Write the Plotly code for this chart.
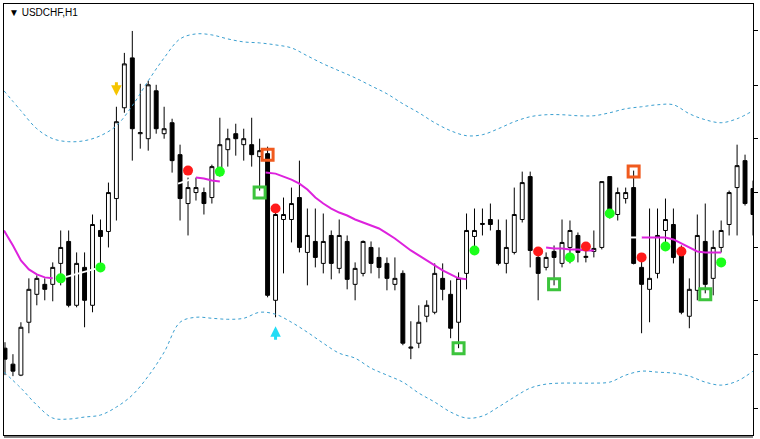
import plotly.graph_objects as go

# USDCHF H1 candles (bar index 0..94)
bars = list(range(95))
opens = [
    .9652, .9636, .9625, .9678, .9706, .9716, .9716, .9737, .9759, .9695,
    .9733, .9695, .9770, .9769, .9802, .9893, .9943, .9867, .9862, .9910,
    .9867, .9878, .9846, .9797, .9808, .9808, .9803, .9829, .9851, .9867,
    .9856, .9856, .9844, .9847, .9700, .9781, .9781, .9803, .9748, .9759,
    .9737, .9765, .9732, .9759, .9716, .9727, .9753, .9743, .9737, .9716,
    .9727, .9652, .9657, .9684, .9688, .9722, .9706, .9678, .9727, .9764,
    .9776, .9781, .9770, .9737, .9748, .9781, .9824, .9743, .9733, .9749,
    .9737, .9753, .9765, .9743, .9749, .9753, .9824, .9786, .9802, .9813,
    .9733, .9711, .9727, .9770, .9776, .9750, .9684, .9710, .9759, .9722,
    .9753, .9776, .9813, .9840, .9812]
highs = [
    .9658, .9646, .9678, .9722, .9725, .9722, .9738, .9770, .9770, .9748,
    .9748, .9786, .9781, .9818, .9894, .9948, .9970, .9917, .9920, .9916,
    .9894, .9882, .9856, .9823, .9823, .9813, .9836, .9883, .9872, .9877,
    .9872, .9883, .9862, .9854, .9796, .9803, .9813, .9840, .9792, .9792,
    .9787, .9770, .9781, .9765, .9738, .9760, .9759, .9753, .9743, .9743,
    .9730, .9679, .9695, .9700, .9737, .9737, .9720, .9728, .9787, .9792,
    .9792, .9797, .9781, .9781, .9813, .9829, .9829, .9748, .9748, .9755,
    .9781, .9780, .9768, .9753, .9770, .9819, .9824, .9813, .9813, .9830,
    .9743, .9792, .9792, .9802, .9792, .9755, .9722, .9786, .9797, .9770,
    .9780, .9810, .9856, .9846, .9820]
lows = [
    .9625, .9624, .9624, .9667, .9695, .9700, .9699, .9715, .9693, .9693,
    .9673, .9688, .9733, .9753, .9780, .9888, .9840, .9852, .9850, .9867,
    .9862, .9828, .9780, .9765, .9800, .9786, .9797, .9824, .9834, .9845,
    .9840, .9834, .9810, .9703, .9683, .9727, .9758, .9748, .9715, .9733,
    .9727, .9721, .9727, .9711, .9700, .9724, .9727, .9722, .9710, .9710,
    .9655, .9641, .9652, .9678, .9686, .9700, .9662, .9652, .9711, .9750,
    .9765, .9770, .9735, .9727, .9746, .9778, .9733, .9700, .9730, .9715,
    .9733, .9737, .9738, .9738, .9743, .9751, .9782, .9780, .9797, .9736,
    .9667, .9678, .9722, .9758, .9737, .9686, .9672, .9700, .9707, .9705,
    .9748, .9765, .9765, .9795, .9765]
closes = [
    .9641, .9629, .9673, .9711, .9722, .9711, .9733, .9753, .9695, .9737,
    .9700, .9776, .9764, .9808, .9879, .9937, .9872, .9868, .9916, .9872,
    .9872, .9840, .9802, .9813, .9813, .9797, .9834, .9856, .9862, .9862,
    .9862, .9846, .9850, .9705, .9786, .9786, .9797, .9753, .9765, .9743,
    .9759, .9737, .9765, .9721, .9732, .9759, .9737, .9733, .9722, .9722,
    .9657, .9653, .9678, .9695, .9727, .9711, .9672, .9722, .9770, .9770,
    .9777, .9776, .9737, .9753, .9786, .9818, .9750, .9727, .9743, .9743,
    .9758, .9770, .9748, .9744, .9752, .9819, .9786, .9808, .9808, .9737,
    .9716, .9722, .9765, .9781, .9743, .9688, .9711, .9765, .9716, .9753,
    .9770, .9808, .9835, .9797, .9786]

# envelope bands (dotted), read every second bar
band_x = [-0.125, 2, 4, 6, 8, 10, 12, 14, 16, 18, 20, 22, 24, 26, 28, 30, 32, 34, 36, 38,
          40, 42, 44, 46, 48, 50, 52, 54, 56, 58, 60, 62, 64, 66, 68, 70, 72, 74, 76, 78,
          80, 82, 84, 86, 88, 90, 92, 94]
upper_band = [.9910, .9890, .9872, .9862, .9859, .9860, .9865, .9875, .9895, .9920,
              .9943, .9962, .9967, .9966, .9962, .9959, .9958, .9956, .9953, .9945,
              .9937, .9930, .9923, .9915, .9907, .9897, .9888, .9878, .9870, .9865,
              .9866, .9872, .9879, .9884, .9886, .9886, .9885, .9885, .9888, .9892,
              .9894, .9896, .9896, .9887, .9881, .9878, .9882, .9890]
lower_band = [.9628, .9612, .9595, .9582, .9581, .9583, .9585, .9593, .9605, .9624,
              .9648, .9678, .9683, .9682, .9681, .9682, .9688, .9686, .9678, .9668,
              .9657, .9647, .9642, .9632, .9625, .9618, .9607, .9598, .9588, .9582,
              .9584, .9593, .9603, .9612, .9616, .9617, .9617, .9617, .9618, .9625,
              .9629, .9628, .9627, .9624, .9618, .9615, .9619, .9629]

# trend line pieces (magenta where active, white where neutral)
ma_pieces = [
    ([-0.125, 1, 2, 3, 4, 5, 6], [.9770, .9755, .9740, .9731, .9726, .9723, .9722]),
    ([24, 25, 26, 27], [.9823, .9822, .9820, .9819]),
    ([32.75, 34, 35, 36, 37, 38, 39, 40, 41, 42, 43, 44, 45, 46, 47, 48, 49, 50, 51, 52,
      53, 54, 55, 56, 57, 58],
     [.9828, .9827, .9824, .9821, .9817, .9811, .9803, .9797, .9792, .9788, .9785, .9781,
      .9778, .9775, .9772, .9767, .9762, .9756, .9750, .9745, .9740, .9735, .9730, .9726,
      .9722, .9721]),
    ([68, 69, 70, 71, 72, 73, 74], [.9753, .9752, .9752, .9751, .9751, .9750, .9750]),
    ([80, 81, 82, 83, 84, 85, 86, 87, 88, 89, 90],
     [.9763, .9763, .9763, .9763, .9761, .9757, .9753, .9749, .9748, .9748, .9748]),
]
white_pieces = [
    ([7, 12], [.9722, .9733]),
    ([21.75, 23.25], [.9817, .9821]),
    ([78.5, 80], [.9763, .9763]),
]

# signals (arrow tips)
sell_arrow_x, sell_arrow_y = 14, .9905
buy_arrow_x, buy_arrow_y = 34, .9674
red_dot_x = [23, 34, 67, 73, 80, 85]
red_dot_y = [.9830, .9792, .9749, .9754, .9743, .9749]
green_dot_x = [7, 12, 27, 59, 71, 76, 83, 90]
green_dot_y = [.9722, .9733, .9829, .9750, .9743, .9787, .9754, .9738]
orange_box_x = [33, 79]
orange_box_y = [.9846, .9829]
green_box_x = [32, 57, 69, 88]
green_box_y = [.9808, .9652, .9716, .9706]

price_ticks = [.9970, .9915, .9862, .9808, .9753, .9700, .9646, .9592]


def joined(pieces):
    xs, ys = [], []
    for px, py in pieces:
        xs += px + [None]
        ys += py + [None]
    return xs, ys


fig = go.Figure()

fig.add_trace(go.Scatter(x=band_x, y=upper_band, mode='lines', line_shape='spline',
                         line=dict(color='#3a9fd0', width=1, dash='3px,3px'), hoverinfo='skip'))
fig.add_trace(go.Scatter(x=band_x, y=lower_band, mode='lines', line_shape='spline',
                         line=dict(color='#3a9fd0', width=1, dash='3px,3px'), hoverinfo='skip'))

fig.add_trace(go.Candlestick(
    x=bars, open=opens, high=highs, low=lows, close=closes,
    increasing=dict(fillcolor='white', line=dict(color='black', width=1)),
    decreasing=dict(fillcolor='black', line=dict(color='black', width=1)),
    whiskerwidth=0,
))

mx, my = joined(ma_pieces)
fig.add_trace(go.Scatter(x=mx, y=my, mode='lines', line=dict(color='#dd22dd', width=2),
                         hoverinfo='skip'))
wx, wy = joined(white_pieces)
fig.add_trace(go.Scatter(x=wx, y=wy, mode='lines', line=dict(color='white', width=2),
                         hoverinfo='skip'))

fig.add_trace(go.Scatter(x=red_dot_x, y=red_dot_y, mode='markers',
                         marker=dict(color='#ff1a1a', size=10, line=dict(width=0))))
fig.add_trace(go.Scatter(x=green_dot_x, y=green_dot_y, mode='markers',
                         marker=dict(color='#1aff1a', size=10, line=dict(width=0))))
fig.add_trace(go.Scatter(x=orange_box_x, y=orange_box_y, mode='markers',
                         marker=dict(symbol='square-open', size=11, color='#f05a1e',
                                     line=dict(color='#f05a1e', width=3))))
fig.add_trace(go.Scatter(x=green_box_x, y=green_box_y, mode='markers',
                         marker=dict(symbol='square-open', size=11, color='#3cc43c',
                                     line=dict(color='#3cc43c', width=3))))

arrow_style = dict(xref='x', yref='y', showarrow=True, arrowhead=2, arrowsize=0.7,
                   arrowwidth=3, ax=0, text='')

fig.update_layout(
    width=760, height=439,
    margin=dict(l=3, r=4, t=3, b=4),
    paper_bgcolor='white', plot_bgcolor='white',
    showlegend=False,
    xaxis=dict(range=[-0.125, 94], showgrid=False, zeroline=False, showticklabels=False,
               ticks='', rangeslider=dict(visible=False),
               showline=True, mirror=True, linecolor='black', linewidth=1),
    yaxis=dict(range=[0.9565, 0.9997], side='right', showgrid=False, zeroline=False,
               tickvals=price_ticks, ticks='outside', ticklen=4, tickcolor='black',
               showticklabels=False,
               showline=True, mirror=True, linecolor='black', linewidth=1),
    annotations=[
        dict(text='\u25bc USDCHF,H1', x=0.004, y=0.981, xref='paper', yref='paper',
             xanchor='left', yanchor='middle', showarrow=False,
             font=dict(family='Liberation Sans', size=10, color='black')),
        dict(arrow_style, x=sell_arrow_x, y=sell_arrow_y, ay=-15, arrowcolor='#f5c400'),
        dict(arrow_style, x=buy_arrow_x, y=buy_arrow_y, ay=15, arrowcolor='#22dcf5'),
    ],
    shapes=[dict(type='line', xref='paper', yref='paper', x0=0, x1=1, y0=-0.0046, y1=-0.0046,
                 line=dict(color='black', width=1))],
)

fig.write_html('out.html', config={'displayModeBar': False},
               post_script="document.body.style.margin='0';")
